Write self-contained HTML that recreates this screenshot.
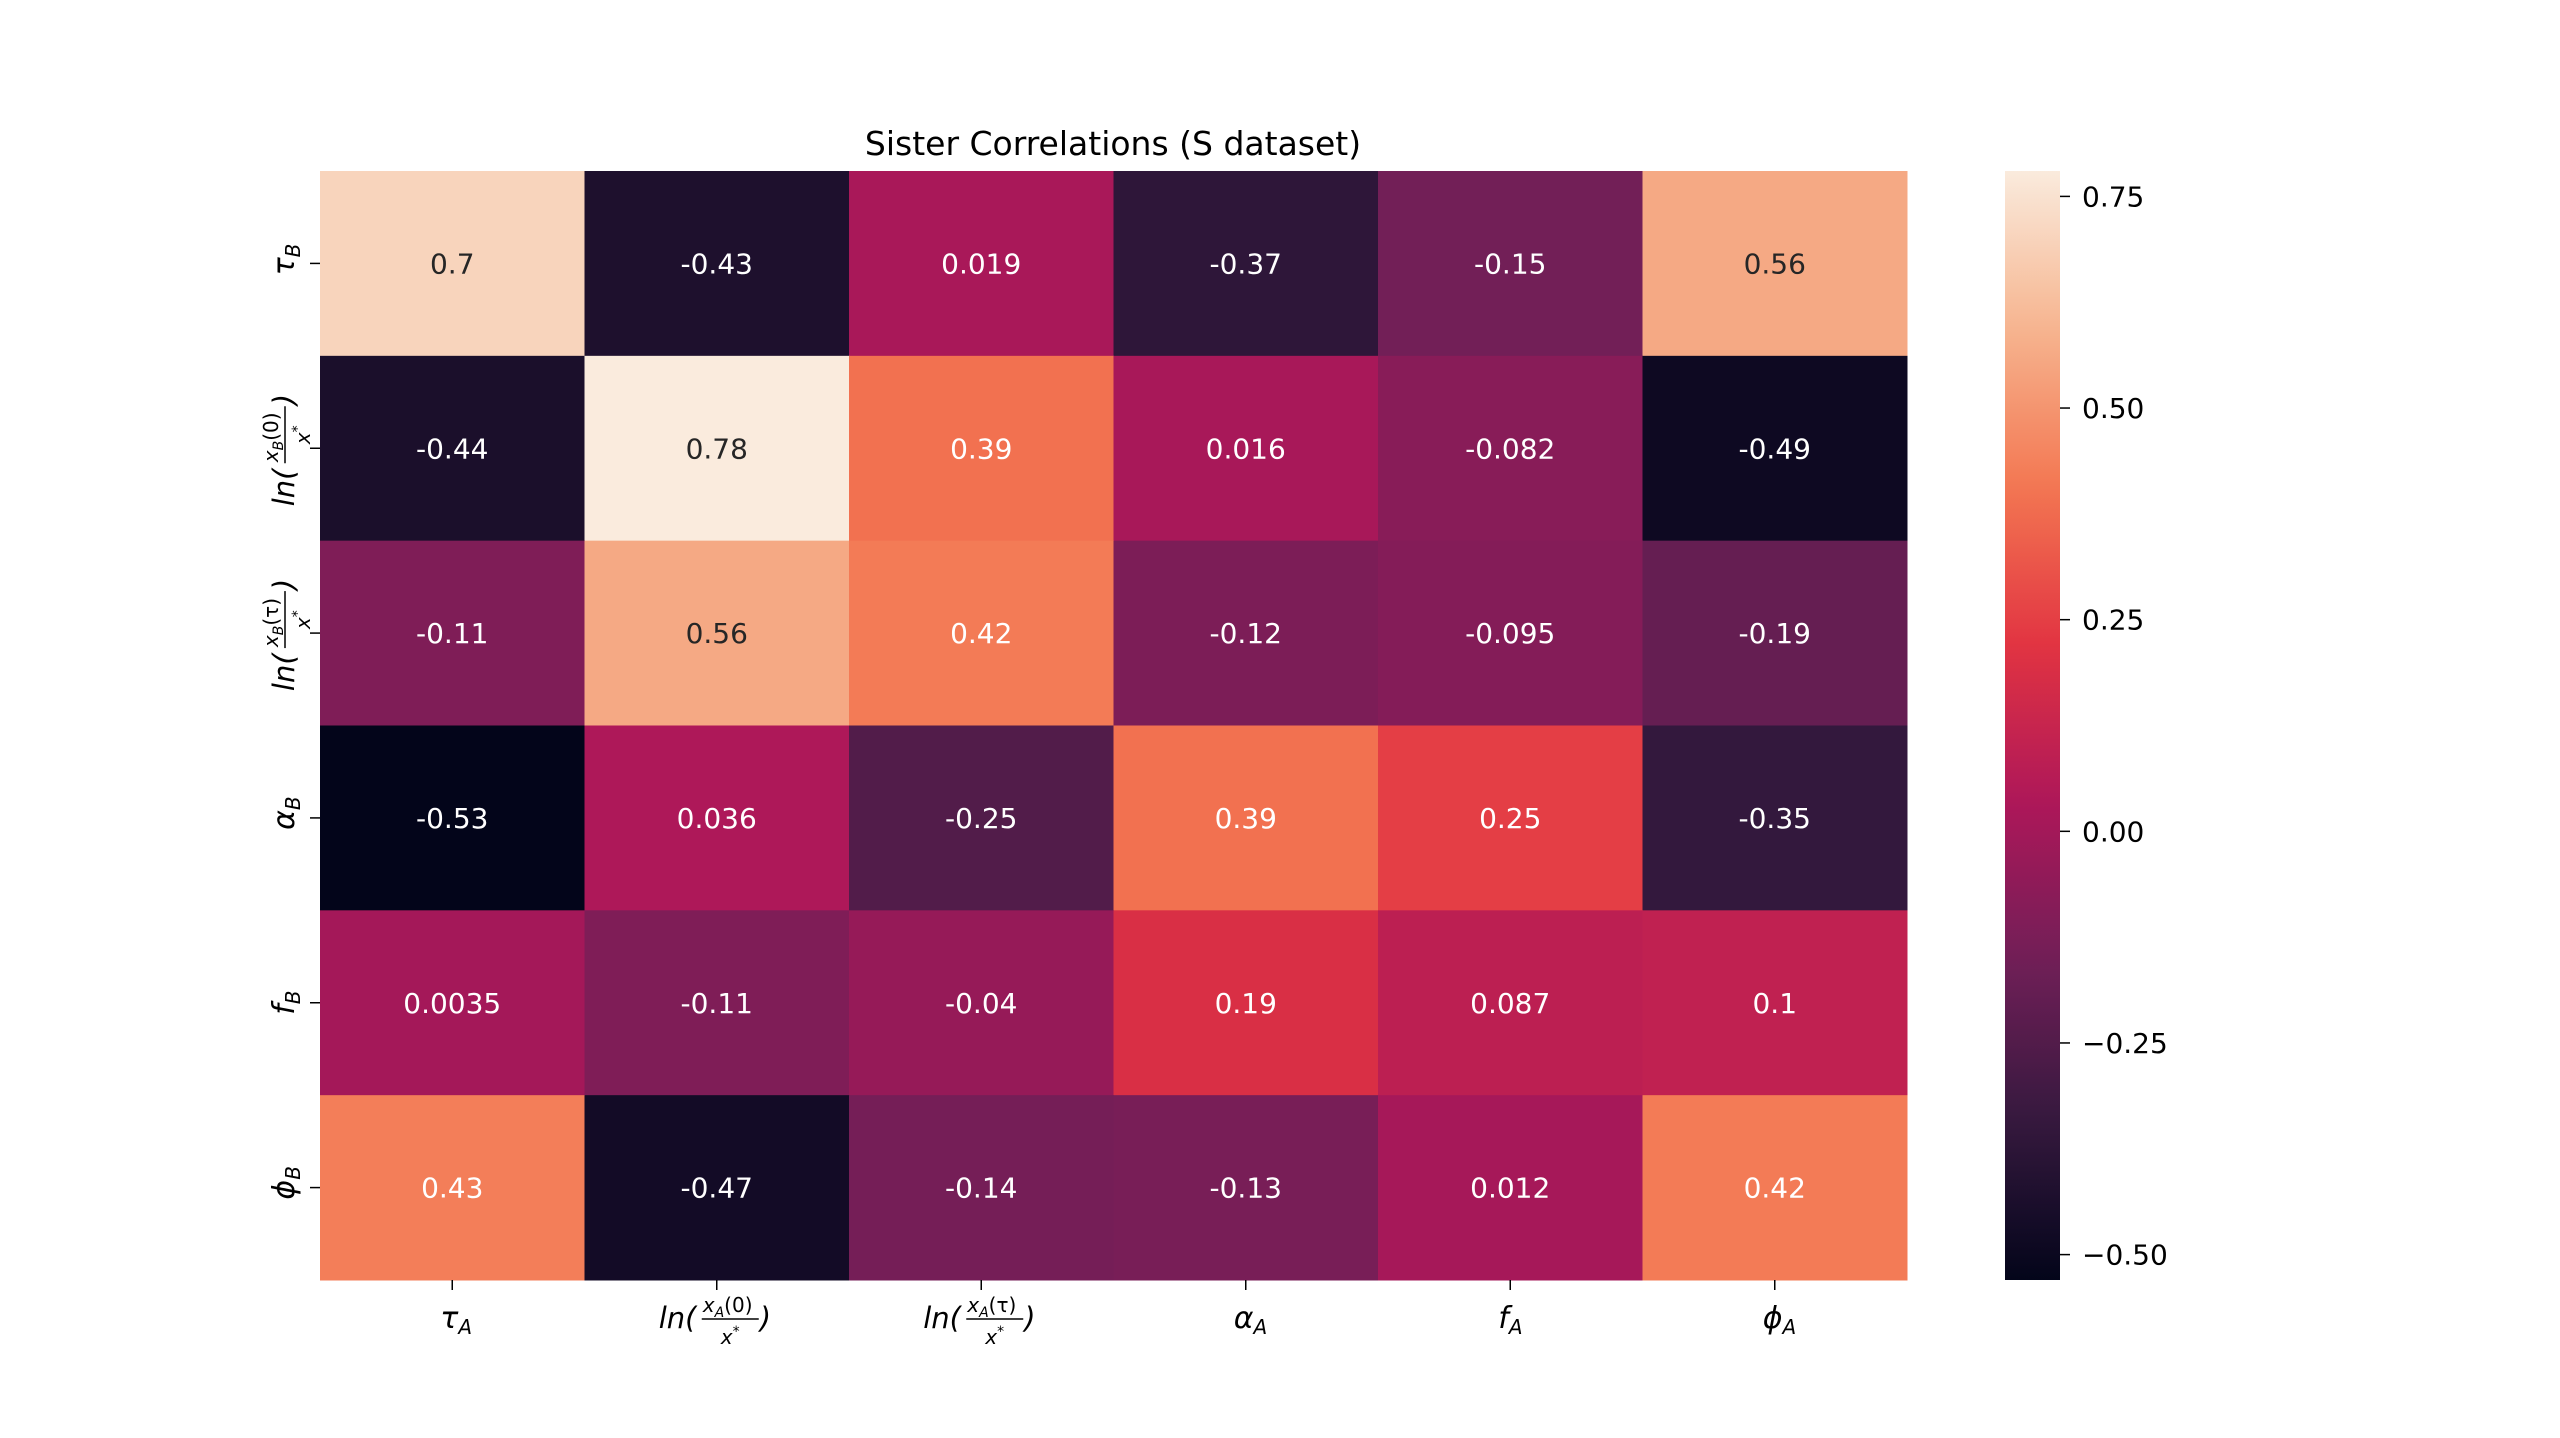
<!DOCTYPE html>
<html><head><meta charset="utf-8"><style>
html,body{margin:0;padding:0;background:#fff;}
svg{display:block;font-family:"DejaVu Sans","Liberation Sans",sans-serif;}
</style></head><body>
<svg id="chart" width="2560" height="1438" viewBox="0 0 2560 1438" xmlns="http://www.w3.org/2000/svg">
<rect width="2560" height="1438" fill="#fff"/>
<text x="1113" y="155" font-size="33" text-anchor="middle" fill="#000">Sister Correlations (S dataset)</text>
<g id="cells"></g><g id="yticks"></g><g id="xticks"></g>
<defs><linearGradient id="cbgrad" x1="0" y1="1" x2="0" y2="0"></linearGradient></defs>
<rect x="2005" y="171" width="55" height="1109" fill="url(#cbgrad)"/>
<g id="cbticks"></g>
</svg>
<script>
const rowLabels = ["tauB","lnB0","lnBt","alphaB","fB","phiB"];
const colLabels = ["tauA","lnA0","lnAt","alphaA","fA","phiA"];
const row0 = [0.7,-0.43,0.019,-0.37,-0.15,0.56];
const row1 = [-0.44,0.78,0.39,0.016,-0.082,-0.49];
const row2 = [-0.11,0.56,0.42,-0.12,-0.095,-0.19];
const row3 = [-0.53,0.036,-0.25,0.39,0.25,-0.35];
const row4 = [0.0035,-0.11,-0.04,0.19,0.087,0.1];
const row5 = [0.43,-0.47,-0.14,-0.13,0.012,0.42];
const cbTicks = [0.75,0.5,0.25,0,-0.25,-0.5];
const cbTickText = ["0.75","0.50","0.25","0.00","\u22120.25","\u22120.50"];

const rows=[row0,row1,row2,row3,row4,row5];
const NS="http://www.w3.org/2000/svg";
const L=320,R=1907,T=171,B=1280;
const cw=(R-L)/6, ch=(B-T)/6;
let all=[].concat(...rows);
const vmin=Math.min(...all), vmax=Math.max(...all);
const stops=[[0,[3,5,26]],[0.143,[53,25,62]],[0.286,[112,31,87]],[0.429,[173,23,89]],[0.571,[225,51,66]],[0.714,[243,118,81]],[0.857,[246,180,143]],[1,[250,235,221]]];
function cmap(t){t=Math.max(0,Math.min(1,t));for(let i=1;i<stops.length;i++){if(t<=stops[i][0]){const a=stops[i-1],b=stops[i];const f=(t-a[0])/(b[0]-a[0]);return b[1].map((v,k)=>Math.round(a[1][k]+(v-a[1][k])*f));}}return stops[stops.length-1][1];}
function norm(v){return (v-vmin)/(vmax-vmin);}
function yOf(v){return B-(v-vmin)/(vmax-vmin)*(B-T);}
function lin(c){c/=255;return c<=0.03928?c/12.92:Math.pow((c+0.055)/1.055,2.4);}
function mk(tag,attrs,parent){const e=document.createElementNS(NS,tag);for(const k in attrs)e.setAttribute(k,attrs[k]);parent.appendChild(e);return e;}
const cells=document.getElementById('cells');
rows.forEach((r,i)=>r.forEach((v,j)=>{
 const c=cmap(norm(v));
 const rc=mk('rect',{x:L+j*cw,y:T+i*ch,width:cw+0.5,height:ch+0.5,fill:`rgb(${c})`},cells);
 
 
 const lum=0.2126*lin(c[0])+0.7152*lin(c[1])+0.0722*lin(c[2]);
 const t=mk('text',{x:L+(j+0.5)*cw,y:T+(i+0.5)*ch+10,'font-size':28,'text-anchor':'middle',fill:lum>0.408?'#262626':'#fff'},cells);
 t.textContent=String(v);
 
 
}));
const g=document.getElementById('cbgrad');
for(let k=0;k<=40;k++){const c=cmap(k/40);mk('stop',{offset:(k/40),'stop-color':`rgb(${c})`},g);}
const cbt=document.getElementById('cbticks');
cbTicks.forEach((v,i)=>{
 const y=yOf(v);
 mk('line',{x1:2060,x2:2070,y1:y,y2:y,stroke:'#000','stroke-width':1.5},cbt);
 const t=mk('text',{x:2082,y:y+10,'font-size':28,fill:'#000'},cbt);
 t.textContent=cbTickText[i];
 
 
});
function label(key,parent){
 const grp=mk('g',{},parent);
 if(key.startsWith('ln')){
  const letter=key[2];
  const arg=key[3]==='0'?'(0)':'(\u03C4)';
  const t1=mk('text',{x:-58,y:10,'font-size':29,'font-style':'italic',fill:'#000'},grp);t1.textContent='ln(';
  const num=mk('text',{x:-14,y:-6,'font-size':20,'font-style':'italic',fill:'#000'},grp);
  num.textContent='x';
  const sub=mk('tspan',{'font-size':14,dy:5},num);sub.textContent=letter;
  const p=mk('tspan',{dy:-5,'font-style':'normal'},num);p.textContent=arg;
  mk('line',{x1:-15,x2:42,y1:1,y2:1,stroke:'#000','stroke-width':1.5},grp);
  const den=mk('text',{x:4,y:26,'font-size':20,'font-style':'italic',fill:'#000'},grp);den.textContent='x';
  const st=mk('tspan',{'font-size':14,dy:-8},den);st.textContent='*';
  const t2=mk('text',{x:43,y:10,'font-size':29,'font-style':'italic',fill:'#000'},grp);t2.textContent=')';
 } else {
  const letter=key.slice(-1);
  const sym={tau:'\u03C4',alpha:'\u03B1',f:'f',phi:'\u03D5'}[key.slice(0,-1)];
  const t=mk('text',{x:-12,y:10,'font-size':30,'font-style':'italic',fill:'#000'},grp);t.textContent=sym;
  const s=mk('tspan',{'font-size':20,dy:6},t);s.textContent=letter;
 }
 return grp;
}
const yt=document.getElementById('yticks');
rowLabels.forEach((k,i)=>{
 const y=T+(i+0.5)*ch;
 mk('line',{x1:310,x2:320,y1:y,y2:y,stroke:'#000','stroke-width':1.5},yt);
 const g2=label(k,yt);
 g2.setAttribute('transform',`translate(284,${y}) rotate(-90)`);
 
 
});
const xt=document.getElementById('xticks');
colLabels.forEach((k,j)=>{
 const x=L+(j+0.5)*cw;
 mk('line',{x1:x,x2:x,y1:1280,y2:1290,stroke:'#000','stroke-width':1.5},xt);
 const g2=label(k,xt);
 g2.setAttribute('transform',`translate(${x},1318)`);
 
 
});
</script>
</body></html>
